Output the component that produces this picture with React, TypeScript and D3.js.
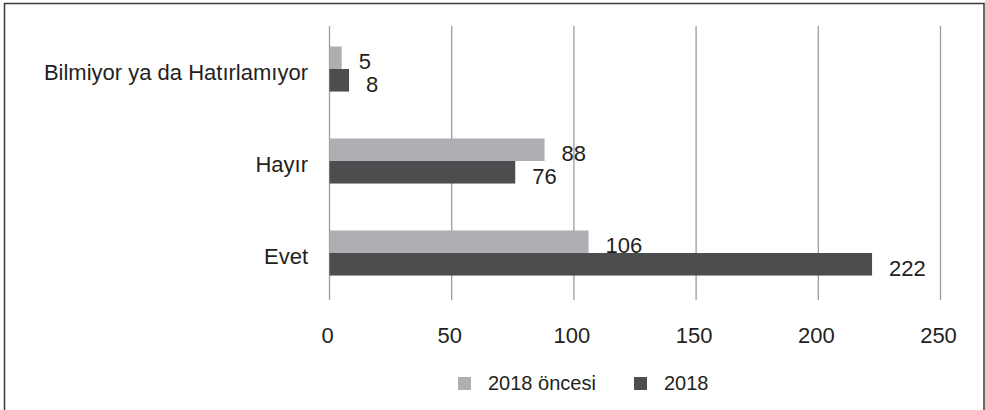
import React from "react";
import * as d3 from "d3";

// Survey answers, grouped by period
const categories = ["Bilmiyor ya da Hatırlamıyor", "Hayır", "Evet"];
const seriesNames = ["2018 öncesi", "2018"];
const valuesBefore2018 = [5, 88, 106];
const values2018 = [8, 76, 222];
const xTickValues = [0, 50, 100, 150, 200, 250];

const WIDTH = 985;
const HEIGHT = 410;
const FONT = "'Liberation Sans', Arial, Helvetica, sans-serif";
const COLORS = ["#aeafb2", "#4c4d4f"];
const GRID = "#9c9c9c";
const TEXT = "#231f20";

export default function App() {
  const x = d3.scaleLinear().domain([0, 250]).range([329.5, 940.5]);
  const y = d3
    .scaleBand<string>()
    .domain(categories)
    .range([23, 299])
    .paddingInner(0.51)
    .paddingOuter(0.255);
  const sub = d3
    .scaleBand<number>()
    .domain([0, 1])
    .range([0, y.bandwidth()]);

  const series = [valuesBefore2018, values2018];

  return (
    <div style={{ position: "fixed", left: 0, top: 0 }}>
      <svg width={WIDTH} height={HEIGHT} style={{ display: "block", background: "#fff" }}>
        {/* outer frame, open at the bottom */}
        <rect x={4.5} y={3.5} width={979.5} height={430} fill="none" stroke="#3a3a3a" strokeWidth={1.5} />

        {/* vertical grid lines */}
        {xTickValues.map((t) => (
          <line key={"g" + t} x1={x(t)} x2={x(t)} y1={26} y2={300} stroke={GRID} strokeWidth={1.3} />
        ))}

        {/* tick labels */}
        {xTickValues.map((t) => (
          <text
            key={"t" + t}
            x={x(t) - 2}
            y={343}
            textAnchor="middle"
            fontFamily={FONT}
            fontSize={22}
            fill={TEXT}
          >
            {t}
          </text>
        ))}

        {/* category labels */}
        {categories.map((c) => (
          <text
            key={"c" + c}
            x={308}
            y={(y(c) as number) + y.bandwidth() / 2 + 11}
            textAnchor="end"
            fontFamily={FONT}
            fontSize={22}
            fill={TEXT}
          >
            {c}
          </text>
        ))}

        {/* bars and their value labels, series drawn in order */}
        {series.map((vals, si) => (
          <g key={"s" + si}>
            {categories.map((c, ci) => {
              const y0 = (y(c) as number) + (sub(si) as number);
              return (
                <rect
                  key={"b" + ci}
                  x={x(0)}
                  y={y0}
                  width={x(vals[ci]) - x(0)}
                  height={sub.bandwidth()}
                  fill={COLORS[si]}
                />
              );
            })}
            {categories.map((c, ci) => {
              const y0 = (y(c) as number) + (sub(si) as number);
              return (
                <text
                  key={"v" + ci}
                  x={x(vals[ci]) + 17}
                  y={y0 + sub.bandwidth() / 2 + 11.5}
                  fontFamily={FONT}
                  fontSize={22}
                  fill={TEXT}
                >
                  {vals[ci]}
                </text>
              );
            })}
          </g>
        ))}

        {/* legend */}
        {seriesNames.map((name, i) => {
          const lx = [458, 634][i];
          return (
            <g key={"l" + i}>
              <rect x={lx} y={377} width={13} height={13} fill={COLORS[i]} />
              <text x={lx + 30} y={389.5} fontFamily={FONT} fontSize={20} fill={TEXT}>
                {name}
              </text>
            </g>
          );
        })}
      </svg>
    </div>
  );
}
